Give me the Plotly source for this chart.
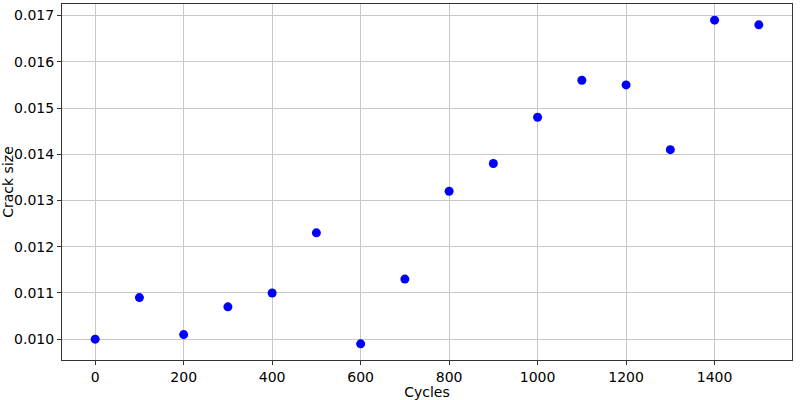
import plotly.graph_objects as go

cycles = [0, 100, 200, 300, 400, 500, 600, 700, 800, 900, 1000, 1100, 1200, 1300, 1400, 1500]
crack = [0.0100, 0.0109, 0.0101, 0.0107, 0.0110, 0.0123, 0.0099, 0.0113,
         0.0132, 0.0138, 0.0148, 0.0156, 0.0155, 0.0141, 0.0169, 0.0168]

fig = go.Figure(go.Scatter(x=cycles, y=crack, mode="markers",
                           marker=dict(color="blue", size=9)))

axis = dict(showline=True, linecolor="#333333", linewidth=1, mirror=True,
            ticks="outside", ticklen=4, tickcolor="#333333", automargin=False,
            showgrid=True, gridcolor="#c8c8c8", gridwidth=1, zeroline=False,
            tickfont=dict(size=14, color="black"), title_font=dict(size=14, color="black"))

fig.update_layout(
    width=800, height=400,
    paper_bgcolor="white", plot_bgcolor="white",
    font=dict(family="DejaVu Sans"),
    margin=dict(l=62, r=8, t=4, b=40),
    showlegend=False,
    xaxis=dict(axis, range=[-75, 1575], tickvals=[0, 200, 400, 600, 800, 1000, 1200, 1400],
               title=dict(text="Cycles", standoff=0)),
    yaxis=dict(axis, range=[0.00955, 0.01725], tickformat=".3f", dtick=0.001,
               title=dict(text="Crack size", standoff=4)),
)

# page body has an 8px default margin; drop it so the figure sits at the corner
fig.write_html("out.html", config={"displayModeBar": False},
               post_script="document.body.style.margin='0';")
